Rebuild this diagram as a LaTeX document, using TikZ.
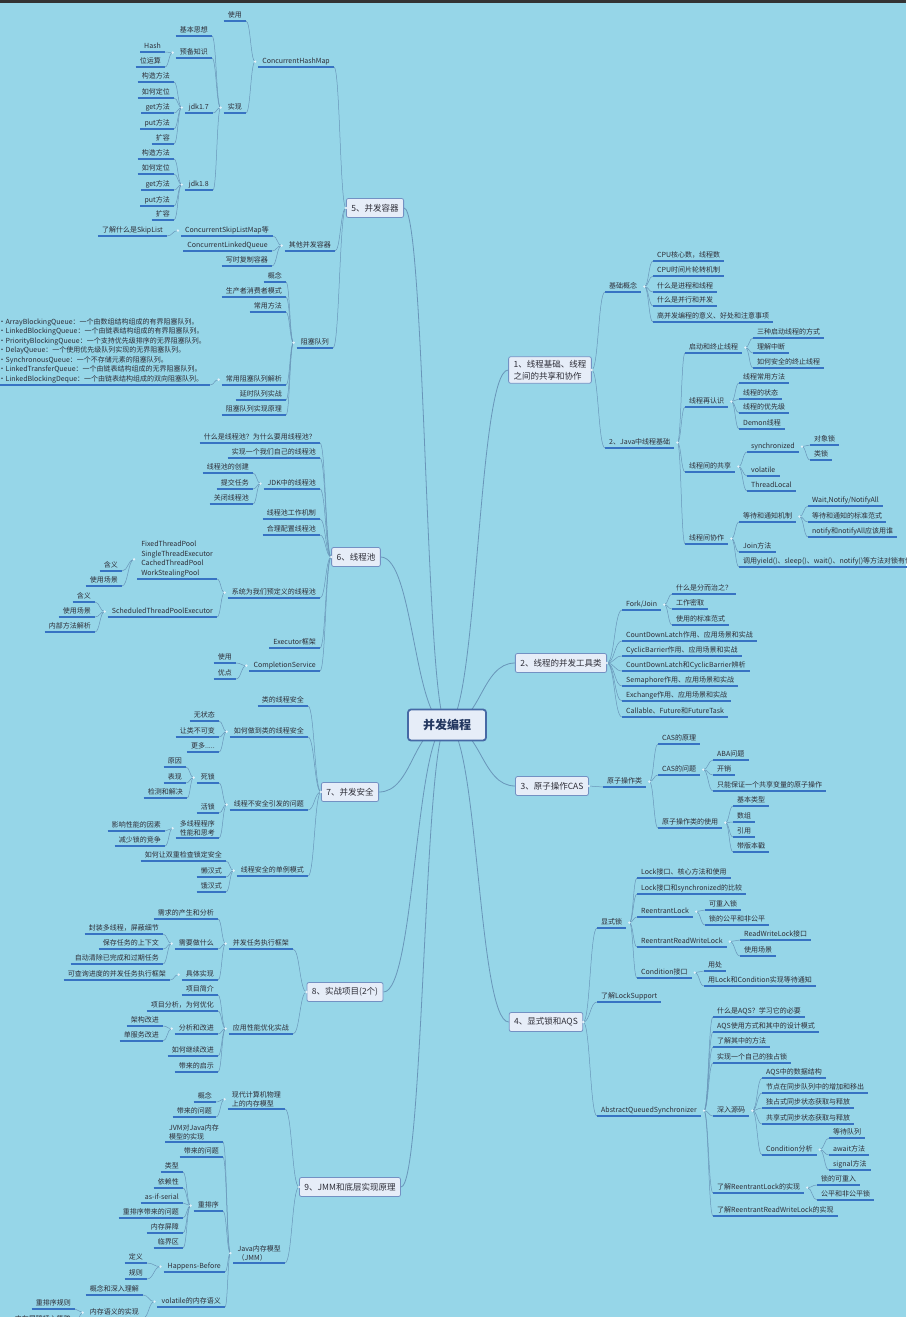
\documentclass[tikz,border=0pt]{standalone}
\usepackage{fontspec}
\setmainfont{Noto Sans CJK SC}
\usetikzlibrary{calc,backgrounds}
\definecolor{bg}{RGB}{150,214,232}
\definecolor{ulc}{RGB}{55,115,195}
\definecolor{cnc}{RGB}{105,150,185}
\definecolor{txc}{RGB}{45,45,55}
\definecolor{boxfill}{RGB}{230,237,248}
\definecolor{boxdraw}{RGB}{115,145,195}
\definecolor{ctrdraw}{RGB}{70,105,165}
\definecolor{ctrtext}{RGB}{35,55,95}
\definecolor{dotc}{RGB}{228,242,250}
\tikzset{
  uline/.style={draw=ulc, line width=1.1pt},
  base/.style={font=\fontsize{7}{9.5}\selectfont, text=txc, inner xsep=4pt, inner ysep=1.6pt,
     append after command={(\tikzlastnode.south west) edge[uline] (\tikzlastnode.south east)}},
  one/.style={base, text height=5.8pt, text depth=1.4pt},
  L/.style={one, anchor=south east},
  R/.style={one, anchor=south west},
  LM/.style={base, anchor=south east, align=left},
  RM/.style={base, anchor=south west, align=left},
  conn/.style={draw=cnc, line width=0.5pt},
  mconn/.style={draw=cnc, line width=0.8pt},
  topic/.style={draw=boxdraw, fill=boxfill, rounded corners=2pt, line width=0.8pt,
     font=\fontsize{8.5}{12}\selectfont, text=txc, inner xsep=5pt, minimum height=19pt},
  center/.style={draw=ctrdraw, fill=boxfill, rounded corners=3pt, line width=1.8pt,
     font=\fontsize{12}{14}\selectfont\bfseries, text=ctrtext, minimum width=78pt, minimum height=31pt}
}
\newcommand\KL[2]{\foreach \ch in {#2}{\draw[conn] let \p1=($(#1.west)+(-3,0)$), \p2=(\ch.south east) in (\p1) .. controls ({0.5*(\x1+\x2)},\y1) and ({0.5*(\x1+\x2)},\y2) .. (\p2);}\fill[dotc] ($(#1.west)+(-3,0)$) circle (1.3pt);}
\newcommand\KR[2]{\foreach \ch in {#2}{\draw[conn] let \p1=($(#1.east)+(3,0)$), \p2=(\ch.south west) in (\p1) .. controls ({0.5*(\x1+\x2)},\y1) and ({0.5*(\x1+\x2)},\y2) .. (\p2);}\fill[dotc] ($(#1.east)+(3,0)$) circle (1.3pt);}
\newcommand\TL[2]{\foreach \ch in {#2}{\draw[conn] let \p1=(#1.west), \p2=(\ch.south east) in (\p1) .. controls ({0.5*(\x1+\x2)},\y1) and ({0.5*(\x1+\x2)},\y2) .. (\p2);}}
\newcommand\TR[2]{\foreach \ch in {#2}{\draw[conn] let \p1=(#1.east), \p2=(\ch.south west) in (\p1) .. controls ({0.5*(\x1+\x2)},\y1) and ({0.5*(\x1+\x2)},\y2) .. (\p2);}}
\newcommand\CL[1]{\draw[mconn] let \p1=(C.center), \p2=(#1.east) in (\p1) .. controls ({0.5*(\x1+\x2)},\y1) and ({0.5*(\x1+\x2)},\y2) .. (\p2);}
\newcommand\CR[1]{\draw[mconn] let \p1=(C.center), \p2=(#1.west) in (\p1) .. controls ({0.5*(\x1+\x2)},\y1) and ({0.5*(\x1+\x2)},\y2) .. (\p2);}
\begin{document}
\begin{tikzpicture}[x=1pt,y=-1pt]
\useasboundingbox (0,0) rectangle (906,1317);

\node[center] (C) at (447,725) {并发编程};

% ---------- Topic 5 ----------
\node[topic] (T5) at (375,208) {5、并发容器};
\node[L] (chm) at (334,67) {ConcurrentHashMap};
\node[L] (qt) at (335,251) {其他并发容器};
\node[L] (bq) at (333,348) {阻塞队列};
\node[L] (a1) at (246,21) {使用};
\node[L] (a2) at (246,113) {实现};
\node[L] (b1) at (212,36) {基本思想};
\node[L] (b2) at (212,58) {预备知识};
\node[L] (b3) at (213,113) {jdk1.7};
\node[L] (b4) at (213,190) {jdk1.8};
\node[L] (c1) at (165,52) {Hash};
\node[L] (c2) at (165,67) {位运算};
\node[L] (d1) at (174,82) {构造方法};
\node[L] (d2) at (174,98) {如何定位};
\node[L] (d3) at (174,113) {get方法};
\node[L] (d4) at (174,129) {put方法};
\node[L] (d5) at (174,144) {扩容};
\node[L] (e1) at (174,159) {构造方法};
\node[L] (e2) at (174,174) {如何定位};
\node[L] (e3) at (174,190) {get方法};
\node[L] (e4) at (174,206) {put方法};
\node[L] (e5) at (174,220) {扩容};
\node[L] (f1) at (273,236) {ConcurrentSkipListMap等};
\node[L] (f2) at (272,251) {ConcurrentLinkedQueue};
\node[L] (f3) at (272,266) {写时复制容器};
\node[L] (g1) at (167,236) {了解什么是SkipList};
\node[L] (h1) at (286,282) {概念};
\node[L] (h2) at (286,297) {生产者消费者模式};
\node[L] (h3) at (286,312) {常用方法};
\node[L] (h4) at (286,385) {常用阻塞队列解析};
\node[L] (h5) at (286,400) {延时队列实战};
\node[L] (h6) at (286,415) {阻塞队列实现原理};
\node[LM] (i1) at (210,385) {·ArrayBlockingQueue：一个由数组结构组成的有界阻塞队列。\\·LinkedBlockingQueue：一个由链表结构组成的有界阻塞队列。\\·PriorityBlockingQueue：一个支持优先级排序的无界阻塞队列。\\·DelayQueue：一个使用优先级队列实现的无界阻塞队列。\\·SynchronousQueue：一个不存储元素的阻塞队列。\\·LinkedTransferQueue：一个由链表结构组成的无界阻塞队列。\\·LinkedBlockingDeque：一个由链表结构组成的双向阻塞队列。};

% ---------- Topic 6 ----------
\node[topic] (T6) at (356,557) {6、线程池};
\node[L] (p1) at (320,443) {什么是线程池？为什么要用线程池？};
\node[L] (p2) at (320,458) {实现一个我们自己的线程池};
\node[L] (p3) at (320,489) {JDK中的线程池};
\node[L] (p4) at (320,519) {线程池工作机制};
\node[L] (p5) at (320,535) {合理配置线程池};
\node[L] (p6) at (320,598) {系统为我们预定义的线程池};
\node[L] (p7) at (320,648) {Executor框架};
\node[L] (p8) at (320,671) {CompletionService};
\node[L] (q1) at (253,473) {线程池的创建};
\node[L] (q2) at (253,489) {提交任务};
\node[L] (q3) at (253,504) {关闭线程池};
\node[LM] (r1) at (217,579) {FixedThreadPool\\SingleThreadExecutor\\CachedThreadPool\\WorkStealingPool};
\node[L] (r2) at (217,617) {ScheduledThreadPoolExecutor};
\node[L] (s1) at (122,571) {含义};
\node[L] (s2) at (122,586) {使用场景};
\node[L] (t1) at (95,602) {含义};
\node[L] (t2) at (95,617) {使用场景};
\node[L] (t3) at (95,632) {内部方法解析};
\node[L] (u1) at (236,663) {使用};
\node[L] (u2) at (236,679) {优点};

% ---------- Topic 7 ----------
\node[topic] (T7) at (350,792) {7、并发安全};
\node[L] (v1) at (308,706) {类的线程安全};
\node[L] (v2) at (308,737) {如何做到类的线程安全};
\node[L] (v3) at (308,810) {线程不安全引发的问题};
\node[L] (v4) at (308,876) {线程安全的单例模式};
\node[L] (w1) at (219,721) {无状态};
\node[L] (w2) at (219,737) {让类不可变};
\node[L] (w3) at (219,752) {更多.....};
\node[L] (x1) at (219,783) {死锁};
\node[L] (x2) at (219,813) {活锁};
\node[LM] (x3) at (219,838) {多线程程序\\性能和思考};
\node[L] (y1) at (226,861) {如何让双重检查锁定安全};
\node[L] (y2) at (226,877) {懒汉式};
\node[L] (y3) at (226,892) {饿汉式};
\node[L] (z1) at (186,767) {原因};
\node[L] (z2) at (186,783) {表现};
\node[L] (z3) at (187,798) {检测和解决};
\node[L] (z4) at (165,831) {影响性能的因素};
\node[L] (z5) at (165,846) {减少锁的竞争};

% ---------- Topic 8 ----------
\node[topic] (T8) at (345,992) {8、实战项目(2个)};
\node[L] (m1) at (293,949) {并发任务执行框架};
\node[L] (m2) at (293,1034) {应用性能优化实战};
\node[L] (n1) at (218,919) {需求的产生和分析};
\node[L] (n2) at (218,949) {需要做什么};
\node[L] (n3) at (218,980) {具体实现};
\node[L] (o1) at (163,934) {封装多线程，屏蔽细节};
\node[L] (o2) at (163,949) {保存任务的上下文};
\node[L] (o3) at (163,964) {自动清除已完成和过期任务};
\node[L] (o4) at (170,980) {可查询进度的并发任务执行框架};
\node[L] (n4) at (218,995) {项目简介};
\node[L] (n5) at (218,1011) {项目分析，为何优化};
\node[L] (n6) at (218,1034) {分析和改进};
\node[L] (n7) at (218,1056) {如何继续改进};
\node[L] (n8) at (218,1072) {带来的启示};
\node[L] (o5) at (163,1026) {架构改进};
\node[L] (o6) at (163,1041) {单服务改进};

% ---------- Topic 9 ----------
\node[topic] (T9) at (350,1187) {9、JMM和底层实现原理};
\node[LM] (j1) at (285,1109) {现代计算机物理\\上的内存模型};
\node[LM] (j2) at (285,1263) {Java内存模型\\（JMM）};
\node[L] (k1) at (216,1102) {概念};
\node[L] (k2) at (216,1117) {带来的问题};
\node[LM] (k3) at (223,1142) {JVM对Java内存\\模型的实现};
\node[L] (k4) at (223,1157) {带来的问题};
\node[L] (k5) at (223,1211) {重排序};
\node[L] (k6) at (225,1272) {Happens-Before};
\node[L] (k7) at (225,1307) {volatile的内存语义};
\node[L] (l1) at (183,1172) {类型};
\node[L] (l2) at (183,1188) {依赖性};
\node[L] (l3) at (183,1203) {as-if-serial};
\node[L] (l4) at (183,1218) {重排序带来的问题};
\node[L] (l5) at (183,1233) {内存屏障};
\node[L] (l6) at (183,1248) {临界区};
\node[L] (l7) at (147,1263) {定义};
\node[L] (l8) at (147,1279) {规则};
\node[L] (l9) at (143,1295) {概念和深入理解};
\node[L] (l10) at (143,1318) {内存语义的实现};
\node[L] (l11) at (75,1309) {重排序规则};
\node[L] (l12) at (75,1325) {内存屏障插入策略};

% ---------- Topic 1 ----------
\node[topic, align=left] (T1) at (550,370) {1、线程基础、线程\\之间的共享和协作};
\node[R] (A1) at (605,292) {基础概念};
\node[R] (A2) at (605,448) {2、Java中线程基础};
\node[R] (B1) at (653,261) {CPU核心数，线程数};
\node[R] (B2) at (653,276) {CPU时间片轮转机制};
\node[R] (B3) at (653,292) {什么是进程和线程};
\node[R] (B4) at (653,306) {什么是并行和并发};
\node[R] (B5) at (653,322) {高并发编程的意义、好处和注意事项};
\node[R] (C1) at (685,353) {启动和终止线程};
\node[R] (C2) at (685,407) {线程再认识};
\node[R] (C3) at (685,472) {线程间的共享};
\node[R] (C4) at (685,544) {线程间协作};
\node[R] (D1) at (753,338) {三种启动线程的方式};
\node[R] (D2) at (753,353) {理解中断};
\node[R] (D3) at (753,368) {如何安全的终止线程};
\node[R] (E1) at (739,383) {线程常用方法};
\node[R] (E2) at (739,399) {线程的状态};
\node[R] (E3) at (739,413) {线程的优先级};
\node[R] (E4) at (739,429) {Demon线程};
\node[R] (F1) at (747,452) {synchronized};
\node[R] (F2) at (747,476) {volatile};
\node[R] (F3) at (747,491) {ThreadLocal};
\node[R] (G1) at (810,445) {对象锁};
\node[R] (G2) at (810,460) {类锁};
\node[R] (H1) at (739,522) {等待和通知机制};
\node[R] (H2) at (739,552) {Join方法};
\node[R] (H3) at (739,567) {调用yield()、sleep()、wait()、notify()等方法对锁有何影响？};
\node[R] (I1) at (808,506) {Wait,Notify/NotifyAll};
\node[R] (I2) at (808,522) {等待和通知的标准范式};
\node[R] (I3) at (808,537) {notify和notifyAll应该用谁};

% ---------- Topic 2 ----------
\node[topic] (T2) at (561,663) {2、线程的并发工具类};
\node[R] (J1) at (622,610) {Fork/Join};
\node[R] (J2) at (622,641) {CountDownLatch作用、应用场景和实战};
\node[R] (J3) at (622,656) {CyclicBarrier作用、应用场景和实战};
\node[R] (J4) at (622,671) {CountDownLatch和CyclicBarrier辨析};
\node[R] (J5) at (622,686) {Semaphore作用、应用场景和实战};
\node[R] (J6) at (622,701) {Exchange作用、应用场景和实战};
\node[R] (J7) at (622,717) {Callable、Future和FutureTask};
\node[R] (K1) at (672,594) {什么是分而治之？};
\node[R] (K2) at (672,609) {工作密取};
\node[R] (K3) at (672,625) {使用的标准范式};

% ---------- Topic 3 ----------
\node[topic] (T3) at (552,786) {3、原子操作CAS};
\node[R] (L1) at (603,787) {原子操作类};
\node[R] (M1) at (658,744) {CAS的原理};
\node[R] (M2) at (658,775) {CAS的问题};
\node[R] (M3) at (658,828) {原子操作类的使用};
\node[R] (N1) at (713,760) {ABA问题};
\node[R] (N2) at (713,775) {开销};
\node[R] (N3) at (713,791) {只能保证一个共享变量的原子操作};
\node[R] (O1) at (733,806) {基本类型};
\node[R] (O2) at (733,822) {数组};
\node[R] (O3) at (733,837) {引用};
\node[R] (O4) at (733,852) {带版本戳};

% ---------- Topic 4 ----------
\node[topic] (T4) at (546,1022) {4、显式锁和AQS};
\node[R] (P1) at (597,928) {显式锁};
\node[R] (P2) at (597,1002) {了解LockSupport};
\node[R] (P3) at (597,1116) {AbstractQueuedSynchronizer};
\node[R] (Q1) at (637,878) {Lock接口、核心方法和使用};
\node[R] (Q2) at (637,894) {Lock接口和synchronized的比较};
\node[R] (Q3) at (637,917) {ReentrantLock};
\node[R] (Q4) at (637,947) {ReentrantReadWriteLock};
\node[R] (Q5) at (637,978) {Condition接口};
\node[R] (S1) at (705,910) {可重入锁};
\node[R] (S2) at (705,925) {锁的公平和非公平};
\node[R] (S3) at (740,940) {ReadWriteLock接口};
\node[R] (S4) at (740,956) {使用场景};
\node[R] (S5) at (704,971) {用处};
\node[R] (S6) at (704,986) {用Lock和Condition实现等待通知};
\node[R] (U1) at (713,1017) {什么是AQS？学习它的必要};
\node[R] (U2) at (713,1032) {AQS使用方式和其中的设计模式};
\node[R] (U3) at (713,1047) {了解其中的方法};
\node[R] (U4) at (713,1063) {实现一个自己的独占锁};
\node[R] (U5) at (713,1116) {深入源码};
\node[R] (U6) at (713,1193) {了解ReentrantLock的实现};
\node[R] (U7) at (713,1216) {了解ReentrantReadWriteLock的实现};
\node[R] (V1) at (762,1078) {AQS中的数据结构};
\node[R] (V2) at (762,1093) {节点在同步队列中的增加和移出};
\node[R] (V3) at (762,1108) {独占式同步状态获取与释放};
\node[R] (V4) at (762,1124) {共享式同步状态获取与释放};
\node[R] (V5) at (762,1155) {Condition分析};
\node[R] (W1) at (829,1138) {等待队列};
\node[R] (W2) at (829,1155) {await方法};
\node[R] (W3) at (829,1170) {signal方法};
\node[R] (X1) at (817,1185) {锁的可重入};
\node[R] (X2) at (817,1200) {公平和非公平锁};

\begin{pgfonlayer}{background}
\fill[bg] (0,0) rectangle (906,1317);
\fill[black!80] (0,0) rectangle (906,2.5);
% centre connectors
\CL{T5}\CL{T6}\CL{T7}\CL{T8}\CL{T9}
\CR{T1}\CR{T2}\CR{T3}\CR{T4}
% left
\TL{T5}{chm,qt,bq}
\KL{chm}{a1,a2}
\KL{a2}{b1,b2,b3,b4}
\KL{b2}{c1,c2}
\KL{b3}{d1,d2,d3,d4,d5}
\KL{b4}{e1,e2,e3,e4,e5}
\KL{qt}{f1,f2,f3}
\KL{f1}{g1}
\KL{bq}{h1,h2,h3,h4,h5,h6}
\KL{h4}{i1}
\TL{T6}{p1,p2,p3,p4,p5,p6,p7,p8}
\KL{p3}{q1,q2,q3}
\KL{p6}{r1,r2}
\KL{r1}{s1,s2}
\KL{r2}{t1,t2,t3}
\KL{p8}{u1,u2}
\TL{T7}{v1,v2,v3,v4}
\KL{v2}{w1,w2,w3}
\KL{v3}{x1,x2,x3}
\KL{v4}{y1,y2,y3}
\KL{x1}{z1,z2,z3}
\KL{x3}{z4,z5}
\TL{T8}{m1,m2}
\KL{m1}{n1,n2,n3}
\KL{n2}{o1,o2,o3}
\KL{n3}{o4}
\KL{m2}{n4,n5,n6,n7,n8}
\KL{n6}{o5,o6}
\TL{T9}{j1,j2}
\KL{j1}{k1,k2}
\KL{j2}{k3,k4,k5,k6,k7}
\KL{k5}{l1,l2,l3,l4,l5,l6}
\KL{k6}{l7,l8}
\KL{k7}{l9,l10}
\KL{l10}{l11,l12}
% right
\TR{T1}{A1,A2}
\KR{A1}{B1,B2,B3,B4,B5}
\KR{A2}{C1,C2,C3,C4}
\KR{C1}{D1,D2,D3}
\KR{C2}{E1,E2,E3,E4}
\KR{C3}{F1,F2,F3}
\KR{F1}{G1,G2}
\KR{C4}{H1,H2,H3}
\KR{H1}{I1,I2,I3}
\TR{T2}{J1,J2,J3,J4,J5,J6,J7}
\KR{J1}{K1,K2,K3}
\TR{T3}{L1}
\KR{L1}{M1,M2,M3}
\KR{M2}{N1,N2,N3}
\KR{M3}{O1,O2,O3,O4}
\TR{T4}{P1,P2,P3}
\KR{P1}{Q1,Q2,Q3,Q4,Q5}
\KR{Q3}{S1,S2}
\KR{Q4}{S3,S4}
\KR{Q5}{S5,S6}
\KR{P3}{U1,U2,U3,U4,U5,U6,U7}
\KR{U5}{V1,V2,V3,V4,V5}
\KR{V5}{W1,W2,W3}
\KR{U6}{X1,X2}
\end{pgfonlayer}
\foreach \t in {T5,T6,T7,T8,T9}{\fill[dotc] (\t.west) circle (1.3pt);}
\foreach \t in {T1,T2,T3,T4}{\fill[dotc] (\t.east) circle (1.3pt);}
\end{tikzpicture}
\end{document}
